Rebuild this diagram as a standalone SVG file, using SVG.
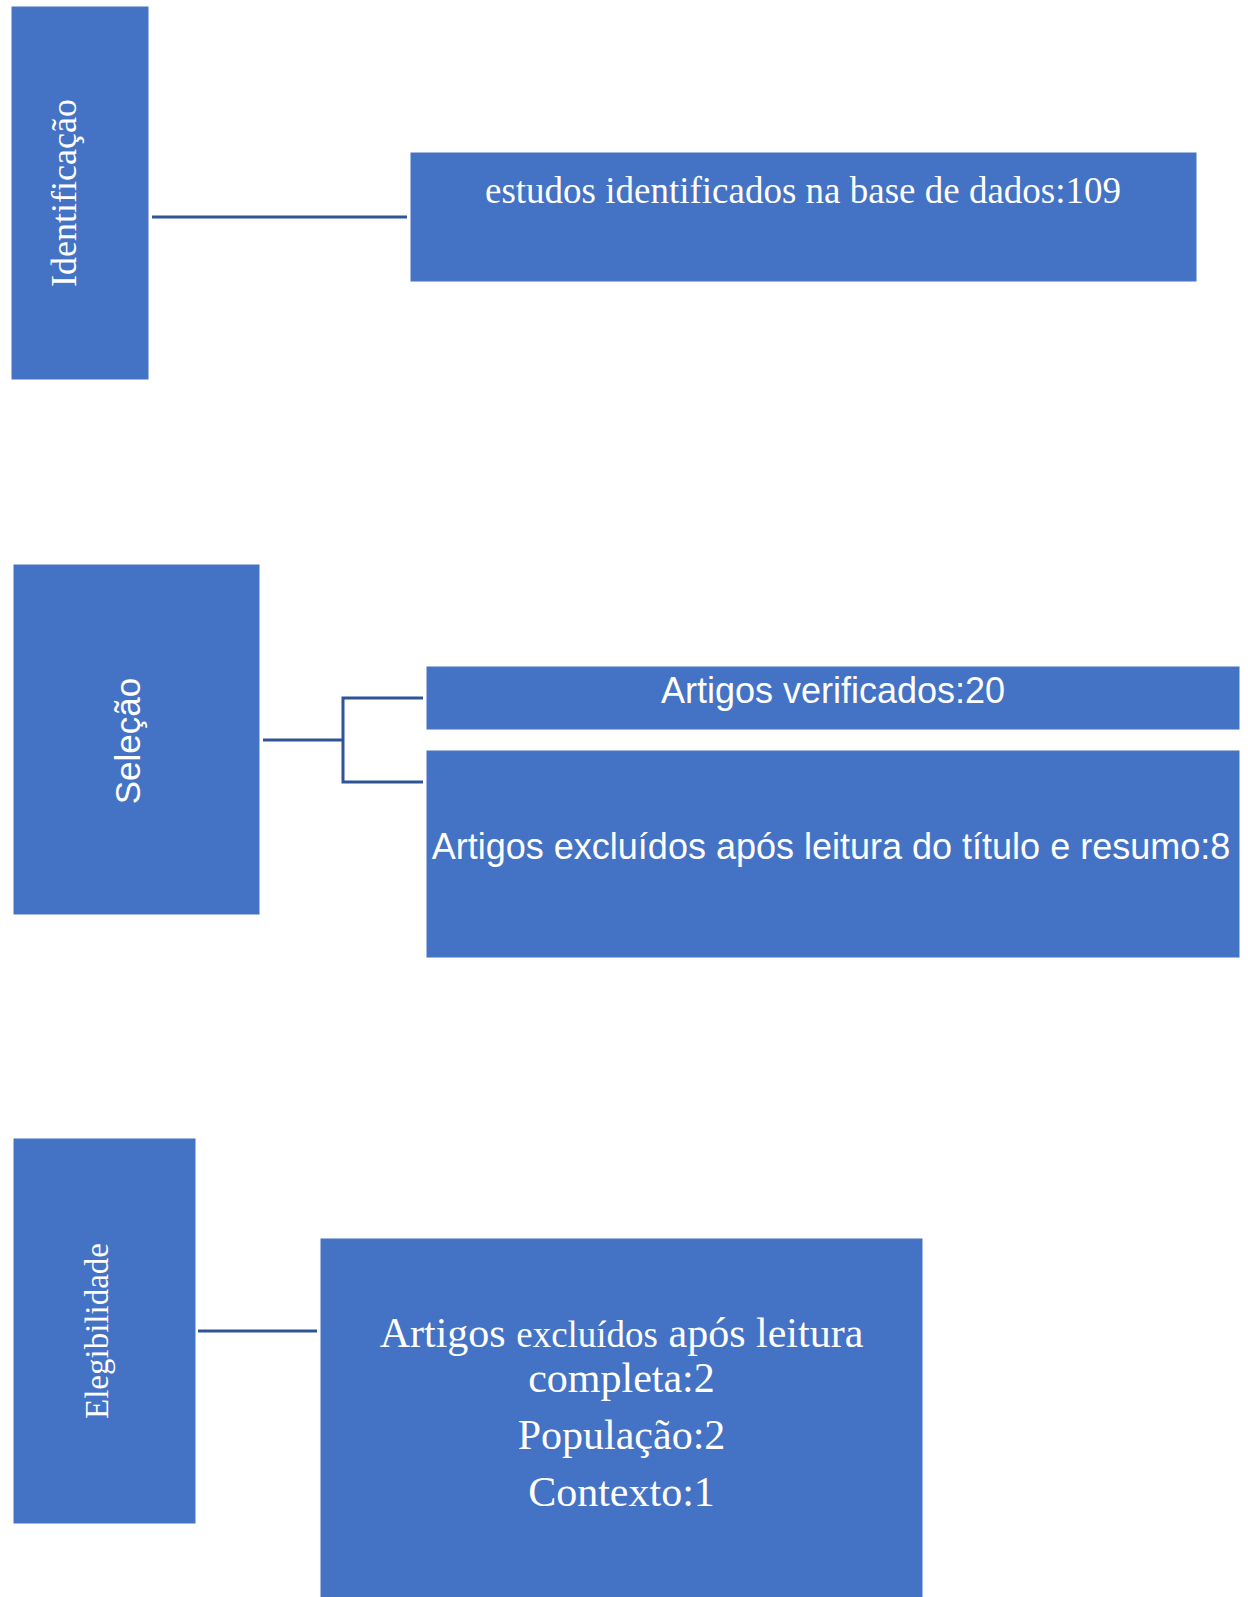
<svg xmlns="http://www.w3.org/2000/svg" width="1248" height="1597" viewBox="0 0 1248 1597">
<style>
.box{fill:#4472C4;stroke:#FFFFFF;stroke-width:1}
.serif{font-family:"Liberation Serif","Times New Roman",serif;fill:#FFFFFF}
.sans{font-family:"Liberation Sans",Arial,sans-serif;fill:#FFFFFF}
.conn{fill:none;stroke:#2F5597;stroke-width:3}
</style>
<rect width="1248" height="1597" fill="#FFFFFF"/>
<g id="identificacao">
<rect class="box" x="11" y="6" width="138" height="374"/>
<text class="serif" font-size="36" text-anchor="middle" transform="translate(76,193) rotate(-90)">Identificação</text>
</g>
<g id="estudos">
<rect class="box" x="410" y="152" width="787" height="130"/>
<text class="serif" font-size="37" text-anchor="middle" x="803" y="203">estudos identificados na base de dados:109</text>
</g>
<g id="selecao">
<rect class="box" x="13" y="564" width="247" height="351"/>
<text class="sans" font-size="35" text-anchor="middle" transform="translate(140,741) rotate(-90)">Seleção</text>
</g>
<g id="verificados">
<rect class="box" x="426" y="666" width="814" height="64"/>
<text class="sans" font-size="36" text-anchor="middle" x="833" y="703">Artigos verificados:20</text>
</g>
<g id="excluidos-titulo">
<rect class="box" x="426" y="750" width="814" height="208"/>
<text class="sans" font-size="36" text-anchor="middle" x="831" y="859">Artigos excluídos após leitura do título e resumo:8</text>
</g>
<g id="elegibilidade">
<rect class="box" x="13" y="1138" width="183" height="386"/>
<text class="serif" font-size="33" text-anchor="middle" transform="translate(108,1331) rotate(-90)">Elegibilidade</text>
</g>
<g id="excluidos-completa">
<rect class="box" x="320" y="1238" width="603" height="370"/>
<text class="serif" font-size="42" text-anchor="middle" x="621.5" y="1347">Artigos <tspan font-size="37">excluídos</tspan> após leitura</text>
<text class="serif" font-size="42" text-anchor="middle" x="621.5" y="1392">completa:2</text>
<text class="serif" font-size="42" text-anchor="middle" x="621.5" y="1449">População:2</text>
<text class="serif" font-size="42" text-anchor="middle" x="621.5" y="1506">Contexto:1</text>
</g>
<g id="connectors">
<line class="conn" x1="152" y1="217" x2="407" y2="217"/>
<polyline class="conn" points="263,740 343,740"/>
<polyline class="conn" points="423,698 343,698 343,782 423,782"/>
<line class="conn" x1="198" y1="1331" x2="317" y2="1331"/>
</g>
</svg>
